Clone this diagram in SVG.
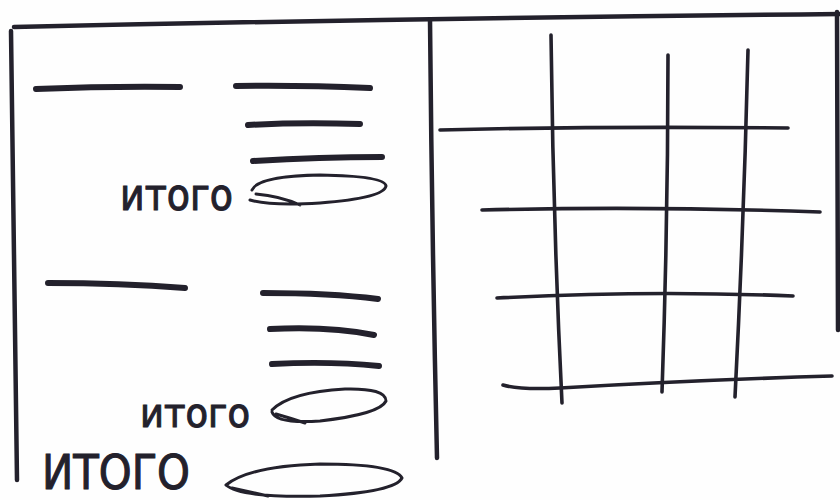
<svg xmlns="http://www.w3.org/2000/svg" width="840" height="500" viewBox="0 0 840 500">
  <style>
    .frame{fill:none;stroke:#23212c;stroke-width:4.5;stroke-linecap:round;stroke-linejoin:round}
    .bar{fill:none;stroke:#23212c;stroke-width:6;stroke-linecap:round}
    .grid{fill:none;stroke:#23212c;stroke-width:3.6;stroke-linecap:round}
    .oval{fill:none;stroke:#23212c;stroke-width:3;stroke-linecap:round;stroke-linejoin:round}
    .lbl{font-family:"DejaVu Sans Condensed","Liberation Sans",sans-serif;fill:#23212c;stroke:#23212c;stroke-width:1;font-weight:normal}
  </style>
  <rect width="840" height="500" fill="#fefefe"/>
  <g id="frame">
    <path class="frame" d="M14 27 Q420 18 840 14"/>
    <path class="frame" d="M11 31 Q13 250 17 480"/>
    <path class="frame" d="M430 20 Q432 240 437 458"/>
    <path class="frame" d="M837 12 L838 330"/>
  </g>
  <g id="section1">
    <path class="bar" d="M36 89 Q110 86 180 87"/>
    <path class="bar" d="M236 86 Q300 85 370 88"/>
    <path class="bar" d="M248 125 Q300 122 360 124"/>
    <path class="bar" d="M253 161 Q320 157 382 157"/>
    <text class="lbl" x="120" y="210" font-size="44" textLength="113" lengthAdjust="spacingAndGlyphs">итого</text>
    <path class="oval" d="M252 190 Q258 176 320 175 Q385 176 386 186 Q384 198 320 203 Q270 206 250 200 M256 194 Q280 196 300 205"/>
  </g>
  <g id="section2">
    <path class="bar" d="M48 283 Q120 283 185 288"/>
    <path class="bar" d="M263 293 Q330 293 378 299"/>
    <path class="bar" d="M270 329 Q330 326 374 335"/>
    <path class="bar" d="M272 364 Q330 361 379 366"/>
    <text class="lbl" x="140" y="427" font-size="41" textLength="110" lengthAdjust="spacingAndGlyphs">итого</text>
    <path class="oval" d="M272 410 Q290 392 345 389 Q386 388 386 401 Q380 414 320 421 Q276 424 272 412 M276 414 Q290 418 305 423"/>
  </g>
  <g id="total">
    <text class="lbl" x="42" y="489" font-size="48" textLength="148" lengthAdjust="spacingAndGlyphs">ИТОГО</text>
    <path class="oval" d="M226 485 Q250 466 320 464 Q395 464 402 478 Q395 492 320 496 Q240 498 226 485 M232 488 Q250 492 268 496"/>
  </g>
  <g id="grid">
    <path class="grid" d="M551 35 Q553 220 562 403"/>
    <path class="grid" d="M668 55 Q668 220 662 392"/>
    <path class="grid" d="M748 50 Q744 220 735 397"/>
    <path class="grid" d="M440 130 Q600 126 788 128"/>
    <path class="grid" d="M482 210 Q650 206 820 212"/>
    <path class="grid" d="M497 298 Q650 290 793 296"/>
    <path class="grid" d="M503 385 Q520 390 560 388 Q700 380 832 376"/>
  </g>
</svg>
